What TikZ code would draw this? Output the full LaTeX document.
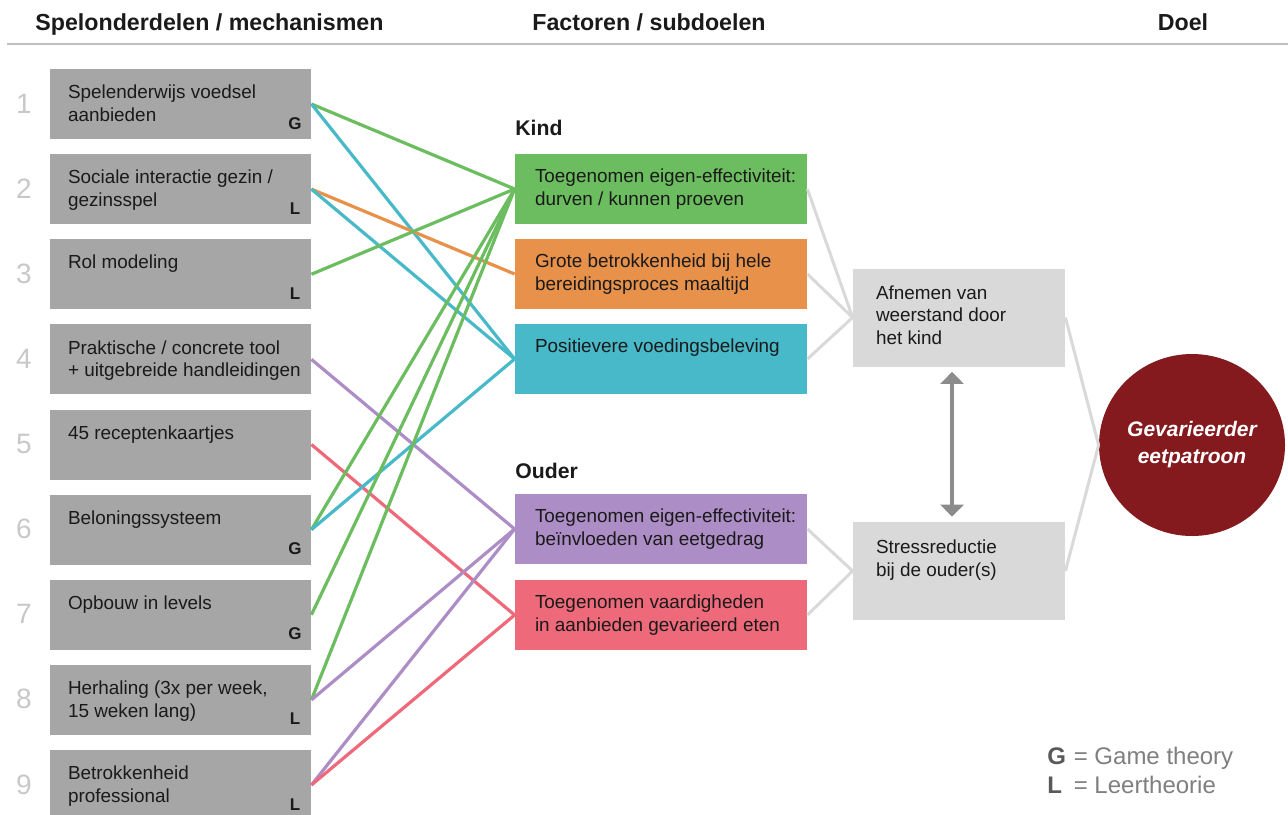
\documentclass[tikz,border=0pt]{standalone}
\usepackage{fontspec}
\setmainfont{Liberation Sans}
\usetikzlibrary{positioning, calc, arrows.meta, shapes.geometric}
\definecolor{Dark}{HTML}{1A1A1A}
\definecolor{BoxGray}{HTML}{A6A6A6}
\definecolor{SoftGray}{HTML}{D9D9D9}
\definecolor{NumGray}{HTML}{C8C8C8}
\definecolor{RuleGray}{HTML}{BFBFBF}
\definecolor{ArrowGray}{HTML}{8C8C8C}
\definecolor{LegendGray}{HTML}{7F7F7F}
\definecolor{Leaf}{HTML}{6CBD5F}
\definecolor{Carrot}{HTML}{E8914A}
\definecolor{Teal}{HTML}{47B9C8}
\definecolor{Lilac}{HTML}{AD8DC5}
\definecolor{Coral}{HTML}{EE6A7A}
\definecolor{Wine}{HTML}{841A1E}
\tikzset{
    header/.style={font=\bfseries\fontsize{11.6}{13}\selectfont, text=Dark, inner sep=0pt},
    group/.style={font=\bfseries\fontsize{10.6}{12}\selectfont, text=Dark, inner sep=0pt},
    mechbox/.style={rectangle, fill=BoxGray, minimum width=130.5pt, minimum height=35pt, inner sep=0pt},
    factorbox/.style={rectangle, minimum width=146pt, minimum height=35pt, inner sep=0pt},
    goalbox/.style={rectangle, fill=SoftGray, minimum width=106pt, minimum height=49pt, inner sep=0pt},
    boxtext/.style={anchor=north west, align=left, inner sep=0pt, text=Dark, font=\fontsize{9.45}{11.3}\selectfont},
    num/.style={anchor=base, font=\fontsize{14}{16}\selectfont, text=NumGray, inner sep=0pt},
    theory/.style={anchor=base, font=\bfseries\fontsize{8.5}{10}\selectfont, text=Dark, inner sep=0pt},
    legend/.style={anchor=base west, font=\fontsize{12}{14}\selectfont, text=LegendGray, inner sep=0pt},
    link/.style={line width=1.6pt},
    softlink/.style={line width=1.5pt, draw=SoftGray},
    twoway/.style={{Triangle[width=11.5pt,length=6pt]}-{Triangle[width=11.5pt,length=6pt]}, line width=2pt, draw=ArrowGray, shorten >=2.5pt, shorten <=2.5pt},
}
\begin{document}
\begin{tikzpicture}[x=0.5pt, y=-0.5pt]
    % Achtergrond
    \fill[white] (0,0) rectangle (1288,814);
    \useasboundingbox (0,0) rectangle (1288,814);

    % Kopjes
    \node[header, anchor=base west] (hmech) at (35,30) {Spelonderdelen / mechanismen};
    \node[header, anchor=base] (hfact) at (649,30) {Factoren / subdoelen};
    \node[header, anchor=base] (hdoel) at (1183,30) {Doel};
    \draw[RuleGray, line width=1pt] (7,44) -- (1288,44);

    % Spelonderdelen
    \foreach \i/\txt/\th in {1/{Spelenderwijs voedsel\\aanbieden}/G,
                             2/{Sociale interactie gezin /\\gezinsspel}/L,
                             3/{Rol modeling}/L,
                             4/{Praktische / concrete tool\\+ uitgebreide handleidingen}/,
                             5/{45 receptenkaartjes}/,
                             6/{Beloningssysteem}/G,
                             7/{Opbouw in levels}/G,
                             8/{Herhaling (3x per week,\\15 weken lang)}/L,
                             9/{Betrokkenheid\\professional}/L}{
        \pgfmathsetmacro{\ytop}{69+85.125*(\i-1)}
        \node[mechbox] (b\i) at (180.5,{\ytop+35}) {};
        \node[boxtext] (t\i) at ($(b\i.north west)+(18,16)$) {\txt};
        \node[num] (n\i) at (24,{\ytop+44}) {\i};
        \node[theory] (g\i) at (295,{\ytop+60}) {\th};
    }

    % Factoren kind
    \node[group, anchor=base west] (kind) at (515,135) {Kind};
    \node[factorbox, fill=Leaf] (eff) at (661,189) {};
    \node[factorbox, fill=Carrot] (proc) at (661,274) {};
    \node[factorbox, fill=Teal] (pos) at (661,359) {};
    \node[boxtext] (efftxt) at ($(eff.north west)+(20,15)$) {Toegenomen eigen-effectiviteit:\\durven / kunnen proeven};
    \node[boxtext] (proctxt) at ($(proc.north west)+(20,15)$) {Grote betrokkenheid bij hele\\bereidingsproces maaltijd};
    \node[boxtext] (postxt) at ($(pos.north west)+(20,15)$) {Positievere voedingsbeleving};

    % Factoren ouder
    \node[group, anchor=base west] (ouder) at (515,478) {Ouder};
    \node[factorbox, fill=Lilac] (oeff) at (661,529) {};
    \node[factorbox, fill=Coral] (vaard) at (661,615) {};
    \node[boxtext] (oefftxt) at ($(oeff.north west)+(20,15)$) {Toegenomen eigen-effectiviteit:\\beïnvloeden van eetgedrag};
    \node[boxtext] (vaardtxt) at ($(vaard.north west)+(20,15)$) {Toegenomen vaardigheden\\in aanbieden gevarieerd eten};

    % Subdoelen
    \node[goalbox] (afn) at (959,317.5) {};
    \node[goalbox] (stress) at (959,571) {};
    \node[boxtext] (afntxt) at ($(afn.north west)+(23,17)$) {Afnemen van\\weerstand door\\het kind};
    \node[boxtext] (stresstxt) at ($(stress.north west)+(23,18)$) {Stressreductie\\bij de ouder(s)};

    % Doel
    \node[ellipse, fill=Wine, minimum width=93pt, minimum height=91pt, inner sep=0pt,
          text=white, align=center, font=\bfseries\itshape\fontsize{10.5}{13.5}\selectfont] (doel) at (1192,445) {Gevarieerder\\eetpatroon};

    % Verbindingen
    \foreach \a/\b/\c in {1/eff/Leaf, 1/pos/Teal, 2/proc/Carrot, 2/pos/Teal, 3/eff/Leaf,
                          4/oeff/Lilac, 5/vaard/Coral, 6/eff/Leaf, 6/pos/Teal, 7/eff/Leaf,
                          8/eff/Leaf, 8/oeff/Lilac, 9/oeff/Lilac, 9/vaard/Coral}
        \draw[link, \c] (b\a.east) -- (\b.west);
    \foreach \f in {eff, proc, pos}
        \draw[softlink] (\f.east) -- (afn.west);
    \foreach \f in {oeff, vaard}
        \draw[softlink] (\f.east) -- (stress.west);
    \draw[softlink] (afn.east) -- (doel.west);
    \draw[softlink] (stress.east) -- (doel.west);
    \draw[twoway] ([xshift=-3.5pt]afn.south) -- ([xshift=-3.5pt]stress.north);

    % Legenda
    \node[legend] (leg) at (1047,764) {\makebox[1.1em][l]{\textbf{\color{black!65}G}}= Game theory};
    \node[legend] (lel) at (1047,793) {\makebox[1.1em][l]{\textbf{\color{black!65}L}}= Leertheorie};
\end{tikzpicture}
\end{document}
